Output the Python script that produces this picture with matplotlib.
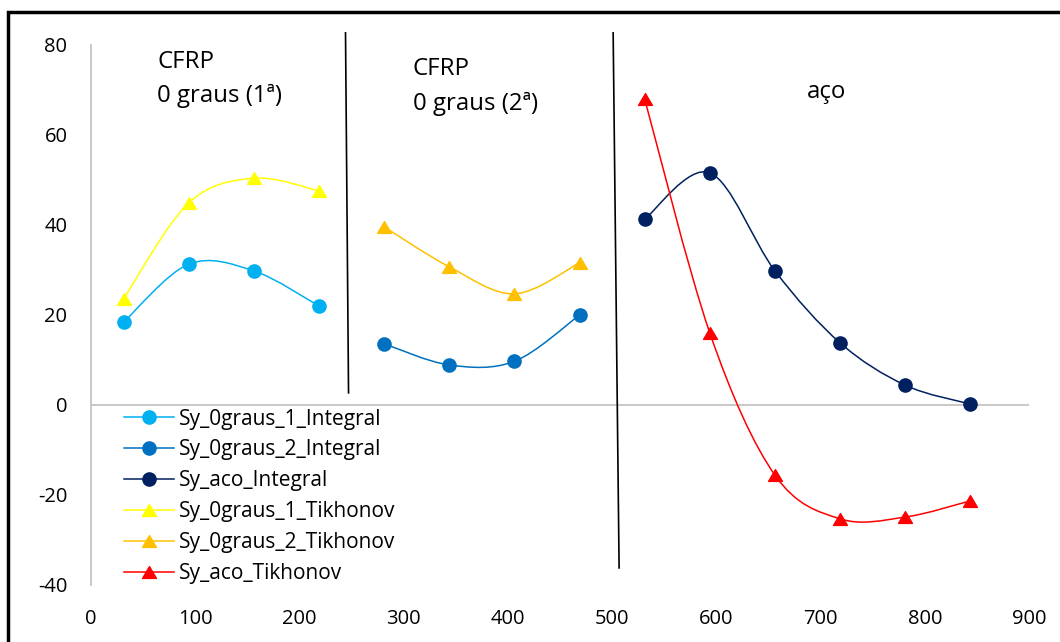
import matplotlib
matplotlib.use("Agg")
import matplotlib.pyplot as plt
from matplotlib.path import Path
from matplotlib.patches import PathPatch, Rectangle
from matplotlib.lines import Line2D
import numpy as np

plt.rcParams['font.family'] = ['Open Sans', 'DejaVu Sans']

# Positions along the specimen
x_cfrp1 = [31.25, 93.75, 156.25, 218.75]
x_cfrp2 = [281.25, 343.75, 406.25, 468.75]
x_aco = [531.25, 593.75, 656.25, 718.75, 781.25, 843.75]

# Sy values - integral method
sy_0graus_1_integral = [18.4, 31.3, 29.8, 22.0]
sy_0graus_2_integral = [13.6, 8.9, 9.7, 20.0]
sy_aco_integral = [41.3, 51.6, 29.8, 13.8, 4.4, 0.2]

# Sy values - Tikhonov regularisation
sy_0graus_1_tikhonov = [23.6, 44.9, 50.4, 47.6]
sy_0graus_2_tikhonov = [39.6, 30.7, 24.7, 31.6]
sy_aco_tikhonov = [68.0, 16.0, -15.6, -25.3, -24.9, -21.3]

series_names = ["Sy_0graus_1_Integral", "Sy_0graus_2_Integral", "Sy_aco_Integral",
                "Sy_0graus_1_Tikhonov", "Sy_0graus_2_Tikhonov", "Sy_aco_Tikhonov"]
region_labels = ["CFRP\n0 graus (1ª)", "CFRP\n0 graus (2ª)", "aço"]
x_ticks = [0, 100, 200, 300, 400, 500, 600, 700, 800, 900]
y_ticks = [-40, -20, 0, 20, 40, 60, 80]

series = [
    (x_cfrp1, sy_0graus_1_integral, "#00B0F0", "o"),
    (x_cfrp2, sy_0graus_2_integral, "#0070C0", "o"),
    (x_aco, sy_aco_integral, "#002060", "o"),
    (x_cfrp1, sy_0graus_1_tikhonov, "#FFFF00", "tri"),
    (x_cfrp2, sy_0graus_2_tikhonov, "#FFC000", "tri"),
    (x_aco, sy_aco_tikhonov, "#FF0000", "tri"),
]

# wide, slightly flat triangle marker
tri_marker = Path([(0, 0.85), (-1.0, -0.85), (1.0, -0.85), (0, 0.85)],
                  [Path.MOVETO, Path.LINETO, Path.LINETO, Path.CLOSEPOLY])


def smooth_path(xs, ys):
    """Cardinal-spline (Catmull-Rom) bezier path through the points."""
    pts = np.column_stack([xs, ys]).astype(float)
    n = len(pts)
    verts = [pts[0]]
    codes = [Path.MOVETO]
    for i in range(n - 1):
        p0 = pts[i - 1] if i > 0 else pts[i]
        p1 = pts[i]
        p2 = pts[i + 1]
        p3 = pts[i + 2] if i + 2 < n else pts[i + 1]
        c1 = p1 + (p2 - p0) / 6.0
        c2 = p2 - (p3 - p1) / 6.0
        verts += [c1, c2, p2]
        codes += [Path.CURVE4] * 3
    return Path(verts, codes)


W, H = 1060, 642
fig = plt.figure(figsize=(W / 100, H / 100), dpi=100)
ax = fig.add_axes([91 / W, 1 - 585 / H, (1029 - 91) / W, (585 - 45) / H])

ax.set_xlim(0, 900)
ax.set_ylim(-40, 80)

gray = "#BFBFBF"
for side in ["top", "right", "bottom"]:
    ax.spines[side].set_visible(False)
ax.spines["left"].set_color(gray)
ax.spines["left"].set_linewidth(1.2)
ax.axhline(0, color=gray, lw=1.2, zorder=1)

handles = []
for (xs, ys, col, mk), name in zip(series, series_names):
    ax.add_patch(PathPatch(smooth_path(xs, ys), facecolor="none", edgecolor=col,
                           lw=1.1, zorder=3))
    marker = "o" if mk == "o" else tri_marker
    ms = 9.5 if mk == "o" else 10
    ax.plot(xs, ys, linestyle="none", marker=marker, markersize=ms,
            color=col, markeredgecolor=col, zorder=4)
    handles.append(Line2D([0], [0], color=col, lw=1.1, marker=marker,
                          markersize=ms, markeredgecolor=col, label=name))

# separators between specimen regions
ax.plot([244.2, 247.1], [82.7, 2.7], color="black", lw=1.2, clip_on=False, zorder=2)
ax.plot([501.0, 506.7], [82.7, -36.2], color="black", lw=1.2, clip_on=False, zorder=2)

# region labels, one text per line placed on its baseline
label_x = [63.5, 308.7, 686.5]
label_baselines = [[74.9, 67.3], [73.3, 65.6], [68.2]]
for txt, lx, bases in zip(region_labels, label_x, label_baselines):
    for line, by in zip(txt.split("\n"), bases):
        ax.text(lx, by, line, fontsize=17.3, va="baseline", ha="left",
                color="black", clip_on=False)

ax.set_xticks(x_ticks)
ax.set_yticks(y_ticks)
ax.set_xticklabels([str(v) for v in x_ticks])
ax.set_yticklabels([str(v) for v in y_ticks])
ax.tick_params(axis="both", length=0, labelsize=14.5, colors="black")
ax.tick_params(axis="y", pad=17)
ax.tick_params(axis="x", pad=17)

leg = fig.legend(handles=handles, loc="upper left",
                 bbox_to_anchor=(124 / W, 1 - 408.5 / H),
                 bbox_transform=fig.transFigure, frameon=False,
                 fontsize=15, handlelength=2.4, handletextpad=0.25,
                 labelspacing=0.475, borderpad=0, borderaxespad=0)

# outer frame around the chart
fig.add_artist(Rectangle((8 / W, -0.2), 1.5, 1.2 - 12 / H, transform=fig.transFigure,
                         fill=False, edgecolor="black", lw=2.5))

fig.savefig("out.png", dpi=100)
